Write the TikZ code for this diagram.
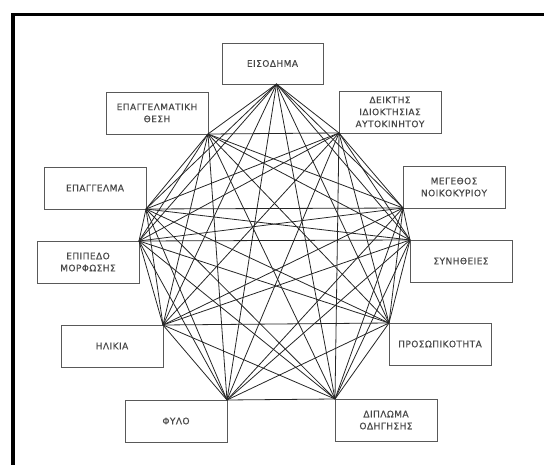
\documentclass[tikz,border=0pt]{standalone}
\usepackage{fontspec}
\newfontfamily\boxfont[LetterSpace=5, FakeBold=0.4]{DejaVu Sans}
\usepackage{tikz}
\usetikzlibrary{positioning}

\tikzset{
  factor/.style={draw=black!65, line width=0.9pt, outer sep=0pt, inner sep=1pt,
    minimum width=102pt, minimum height=42pt, align=center,
    font=\boxfont\fontsize{9}{12}\selectfont, text=black!72},
  link/.style={draw=black!85, line width=0.8pt}
}

\begin{document}
\begin{tikzpicture}[x=1pt, y=-1pt]
        \useasboundingbox (0,0) rectangle (544,465);

        % Frame
        \draw[line width=3.5pt] (13,465) -- (13,14.5) -- (544,14.5);

        % Factors
        \node[factor, anchor=north west, minimum width=101pt, minimum height=41pt] (inc) at (222,43) {ΕΙΣΟΔΗΜΑ};
        \node[factor, anchor=north west] (pos) at (106,92) {ΕΠΑΓΓΕΛΜΑΤΙΚΗ\\ΘΕΣΗ};
        \node[factor, anchor=north west] (car) at (339,91) {ΔΕΙΚΤΗΣ\\ΙΔΙΟΚΤΗΣΙΑΣ\\ΑΥΤΟΚΙΝΗΤΟΥ};
        \node[factor, anchor=north west] (job) at (44,167) {ΕΠΑΓΓΕΛΜΑ};
        \node[factor, anchor=north west] (hh) at (403,166) {ΜΕΓΕΘΟΣ\\ΝΟΙΚΟΚΥΡΙΟΥ};
        \node[factor, anchor=north west] (edu) at (37,241) {ΕΠΙΠΕΔΟ\\ΜΟΡΦΩΣΗΣ};
        \node[factor, anchor=north west] (hab) at (410,240) {ΣΥΝΗΘΕΙΕΣ};
        \node[factor, anchor=north west] (age) at (61,325) {ΗΛΙΚΙΑ};
        \node[factor, anchor=north west] (pers) at (389,323) {ΠΡΟΣΩΠΙΚΟΤΗΤΑ};
        \node[factor, anchor=north west] (sex) at (125,400) {ΦΥΛΟ};
        \node[factor, anchor=north west] (lic) at (335,399) {ΔΙΠΛΩΜΑ\\ΟΔΗΓΗΣΗΣ};

        % Corners where the links meet
        \coordinate (v1) at ([xshift=4pt]inc.south);
        \coordinate (v2) at (car.south west);
        \coordinate (v3) at (hh.south west);
        \coordinate (v4) at (hab.north west);
        \coordinate (v5) at (pers.north west);
        \coordinate (v6) at (lic.north west);
        \coordinate (v7) at (sex.north east);
        \coordinate (v8) at (age.north east);
        \coordinate (v9) at (edu.north east);
        \coordinate (v10) at (job.south east);
        \coordinate (v11) at (pos.south east);

        % Every factor linked to every other
        \foreach \i in {1,...,10} {
            \pgfmathtruncatemacro\k{\i+1}
            \foreach \j in {\k,...,11}
                \draw[link] (v\i) -- (v\j);
        }
    \end{tikzpicture}
\end{document}
